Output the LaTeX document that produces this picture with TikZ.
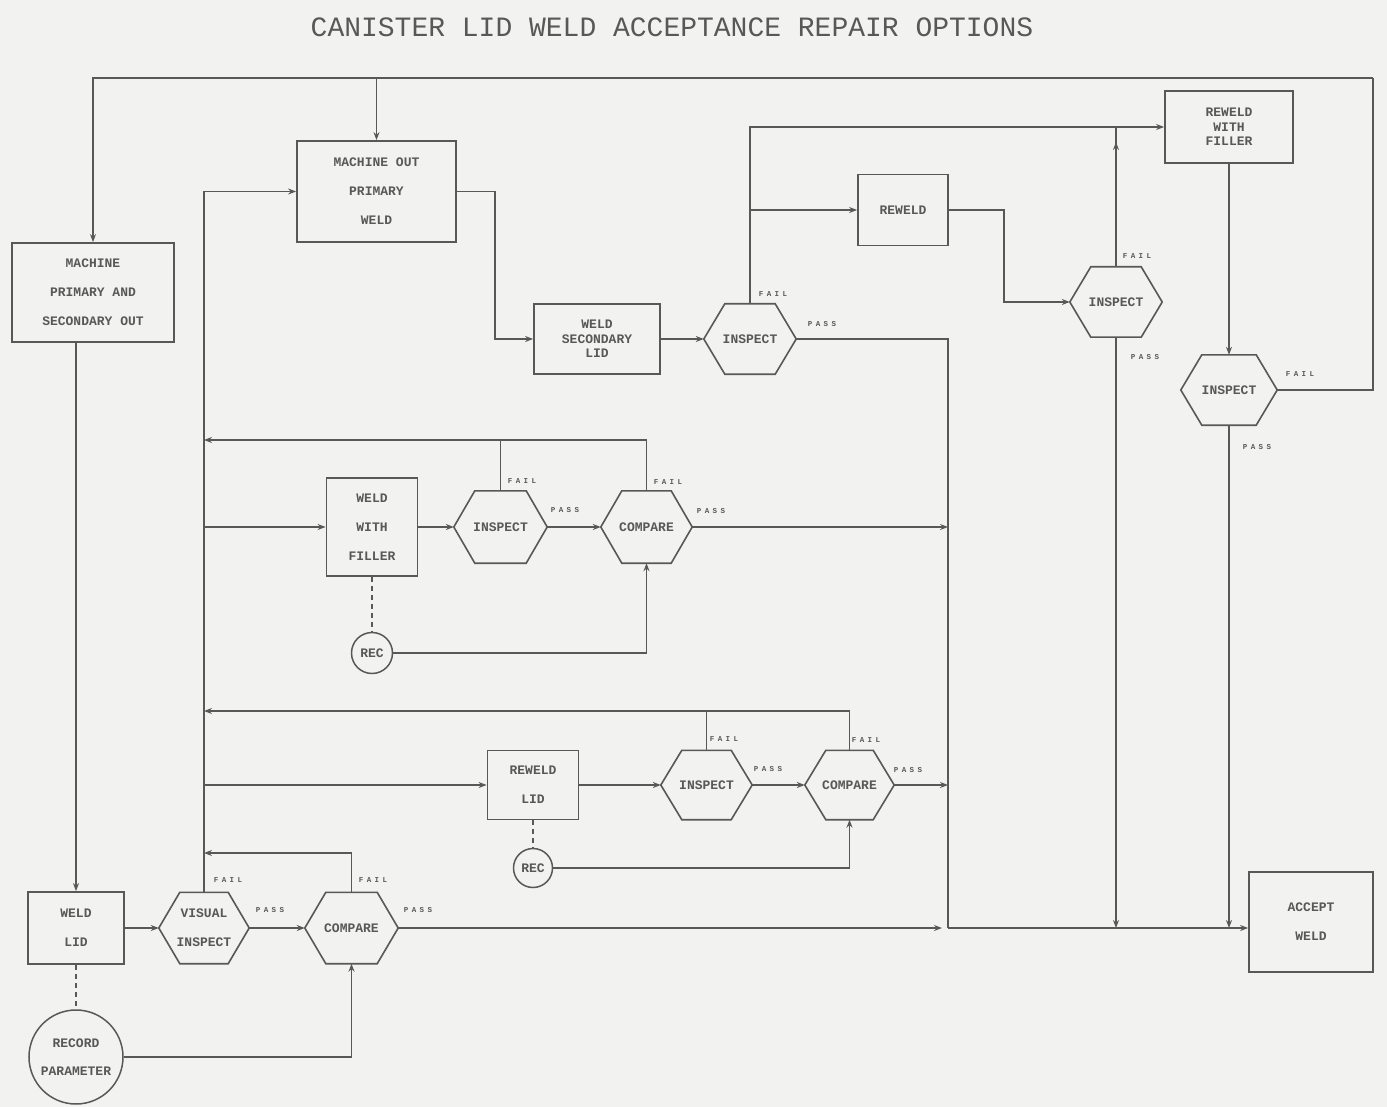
\documentclass[tikz,border=0pt]{standalone}
\usepackage{fontspec}
\newfontfamily\boxfont{Liberation Mono}
\newfontfamily\lblfont[LetterSpace=45]{Liberation Mono}
\usetikzlibrary{arrows.meta,calc}
\definecolor{ink}{RGB}{88,88,88}
\definecolor{paper}{RGB}{242,242,240}
\newcommand{\hexo}[1]{\draw[hexline] ([xshift=21pt]#1.north west) -- ([xshift=-21pt]#1.north east) -- (#1.east) -- ([xshift=-21pt]#1.south east) -- ([xshift=21pt]#1.south west) -- (#1.west) -- cycle;}
\begin{document}
\begin{tikzpicture}[x=1pt,y=-1pt,
  ln/.style={draw=ink,line width=1.2pt},
  arr/.style={ln,-{Stealth[length=8pt,width=6pt]}},
  dsh/.style={ln,dash pattern=on 5pt off 4pt},
  hexline/.style={draw=ink,line width=1.6pt,line join=miter},
  box/.style={draw=ink,line width=1.8pt,inner sep=0pt,align=center,text=ink,font={\boxfont\bfseries\fontsize{13}{29}\selectfont}},
  tight/.style={font={\boxfont\bfseries\fontsize{13}{14.5}\selectfont}},
  hexa/.style={inner sep=0pt,align=center,text=ink,font={\boxfont\bfseries\fontsize{13}{29}\selectfont}},
  circ/.style={circle,draw=ink,line width=1.5pt,inner sep=0pt,align=center,text=ink,font={\boxfont\bfseries\fontsize{13}{28}\selectfont}},
  lbl/.style={inner sep=0pt,text=ink,font={\lblfont\bfseries\fontsize{7.5}{8}\selectfont}}]
\fill[paper] (0,0) rectangle (1387,1107);
\useasboundingbox (0,0) rectangle (1387,1107);

\node[text=ink,font={\boxfont\fontsize{28}{30}\selectfont}] (title) at (672,27) {CANISTER LID WELD ACCEPTANCE REPAIR OPTIONS};

% boxes
\node[box,minimum width=162pt,minimum height=99pt] (mps) at (93,292.5) {MACHINE\\PRIMARY AND\\SECONDARY OUT};
\node[box,minimum width=159pt,minimum height=101pt] (mopw) at (376.5,191.5) {MACHINE OUT\\PRIMARY\\WELD};
\node[box,tight,minimum width=126pt,minimum height=70pt] (wsl) at (597,339) {WELD\\SECONDARY\\LID};
\node[box,minimum width=90pt,minimum height=71pt] (rw) at (903,210) {REWELD};
\node[box,tight,minimum width=128pt,minimum height=72pt] (rwf) at (1229,127) {REWELD\\WITH\\FILLER};
\node[box,minimum width=91pt,minimum height=98pt] (wwf) at (372,527) {WELD\\WITH\\FILLER};
\node[box,minimum width=91pt,minimum height=69pt] (rl) at (533,785) {REWELD\\LID};
\node[box,minimum width=96pt,minimum height=72pt] (wl) at (76,928) {WELD\\LID};
\node[box,minimum width=124pt,minimum height=100pt] (acc) at (1311,922) {ACCEPT\\WELD};

% hexagons
\node[hexa,minimum width=92pt,minimum height=70pt] (ins1) at (750,339) {INSPECT};
\node[hexa,minimum width=92pt,minimum height=70pt] (ins2) at (1116,302) {INSPECT};
\node[hexa,minimum width=96pt,minimum height=70pt] (ins3) at (1229,390) {INSPECT};
\node[hexa,minimum width=93pt,minimum height=72pt] (ins4) at (500.5,527) {INSPECT};
\node[hexa,minimum width=91pt,minimum height=72pt] (cmp1) at (646.5,527) {COMPARE};
\node[hexa,minimum width=91pt,minimum height=69pt] (ins5) at (706.5,785) {INSPECT};
\node[hexa,minimum width=89pt,minimum height=69pt] (cmp2) at (849.5,785) {COMPARE};
\node[hexa,minimum width=90pt,minimum height=71pt] (vi) at (204,928) {VISUAL\\INSPECT};
\node[hexa,minimum width=93pt,minimum height=71pt] (cmp3) at (351.5,928) {COMPARE};
\foreach \h in {ins1,ins2,ins3,ins4,cmp1,ins5,cmp2,vi,cmp3} {\hexo{\h}}

% circles
\node[circ,minimum size=41pt] (rec1) at (372,653) {REC};
\node[circ,minimum size=39pt] (rec2) at (533,868) {REC};
\node[circ,minimum size=94pt] (recp) at (76,1057) {RECORD\\PARAMETER};

% helper coordinates
\coordinate (tr) at (1373,78);
\coordinate (b0) at (948,928);
\coordinate (f1) at (0,440);
\coordinate (f2) at (0,711);
\coordinate (f3) at (0,853);

% top loop
\draw[ln] (ins3.east) -| (tr);
\draw[arr] (tr) -| (mps.north);
\draw[arr] (mopw.north |- tr) -- (mopw.north);

% left column
\draw[arr] (wl.north |- mps.south) -- (wl.north);
\draw[arr] (vi.north) |- (mopw.west);
\draw[arr] (vi.north |- wwf.west) -- (wwf.west);
\draw[arr] (vi.north |- rl.west) -- (rl.west);

% upper chain
\draw[arr] (mopw.east) -- ++(38,0) |- (wsl.west);
\draw[arr] (wsl.east) -- (ins1.west);
\draw[ln] (ins1.east) -| (b0);
\draw[arr] (ins1.north) |- (rwf.west);
\draw[arr] (ins1.north |- rw.west) -- (rw.west);
\draw[arr] (rw.east) -- ++(55,0) |- (ins2.west);
\draw[ln] (ins2.north) -- (ins2.north |- rwf.west);
\draw[arr] (ins2.north) -- ([yshift=-15pt]ins2.north |- rwf.west);
\draw[arr] (rwf.south) -- (ins3.north);
\draw[arr] (ins2.south) -- (ins2.south |- b0);
\draw[arr] (ins3.south) -- (ins3.south |- b0);

% weld with filler chain
\draw[arr] (wwf.east) -- (ins4.west);
\draw[arr] (ins4.east) -- (cmp1.west);
\draw[arr] (cmp1.east) -- (b0 |- cmp1.east);
\draw[ln] (ins4.north) -- (ins4.north |- f1);
\draw[arr] (cmp1.north) |- (vi.north |- f1);
\draw[dsh] (wwf.south) -- (rec1.north);
\draw[arr] (rec1.east) -| (cmp1.south);

% reweld lid chain
\draw[arr] (rl.east) -- (ins5.west);
\draw[arr] (ins5.east) -- (cmp2.west);
\draw[arr] (cmp2.east) -- (b0 |- cmp2.east);
\draw[ln] (ins5.north) -- (ins5.north |- f2);
\draw[arr] (cmp2.north) |- (vi.north |- f2);
\draw[dsh] (rl.south) -- (rec2.north);
\draw[arr] (rec2.east) -| (cmp2.south);

% bottom chain
\draw[arr] (wl.east) -- (vi.west);
\draw[arr] (vi.east) -- (cmp3.west);
\draw[arr] (cmp3.north) |- (vi.north |- f3);
\draw[dsh] (wl.south) -- (recp.north);
\draw[arr] (recp.east) -| (cmp3.south);
\draw[arr] (cmp3.east) -- ([xshift=-6pt]b0 |- cmp3.east);
\draw[arr] (b0) -- (acc.west |- b0);

% labels
\node[lbl] (l1) at (773,294) {FAIL};
\node[lbl] (l2) at (822,324) {PASS};
\node[lbl] (l3) at (1137,256) {FAIL};
\node[lbl] (l4) at (1145,357) {PASS};
\node[lbl] (l5) at (1300,374) {FAIL};
\node[lbl] (l6) at (1257,447) {PASS};
\node[lbl] (l7) at (522,481) {FAIL};
\node[lbl] (l8) at (565,510) {PASS};
\node[lbl] (l9) at (668,482) {FAIL};
\node[lbl] (l10) at (711,511) {PASS};
\node[lbl] (l11) at (724,739) {FAIL};
\node[lbl] (l12) at (768,769) {PASS};
\node[lbl] (l13) at (866,740) {FAIL};
\node[lbl] (l14) at (908,770) {PASS};
\node[lbl] (l15) at (228,880) {FAIL};
\node[lbl] (l16) at (270,910) {PASS};
\node[lbl] (l17) at (373,880) {FAIL};
\node[lbl] (l18) at (418,910) {PASS};
\end{tikzpicture}
\end{document}
